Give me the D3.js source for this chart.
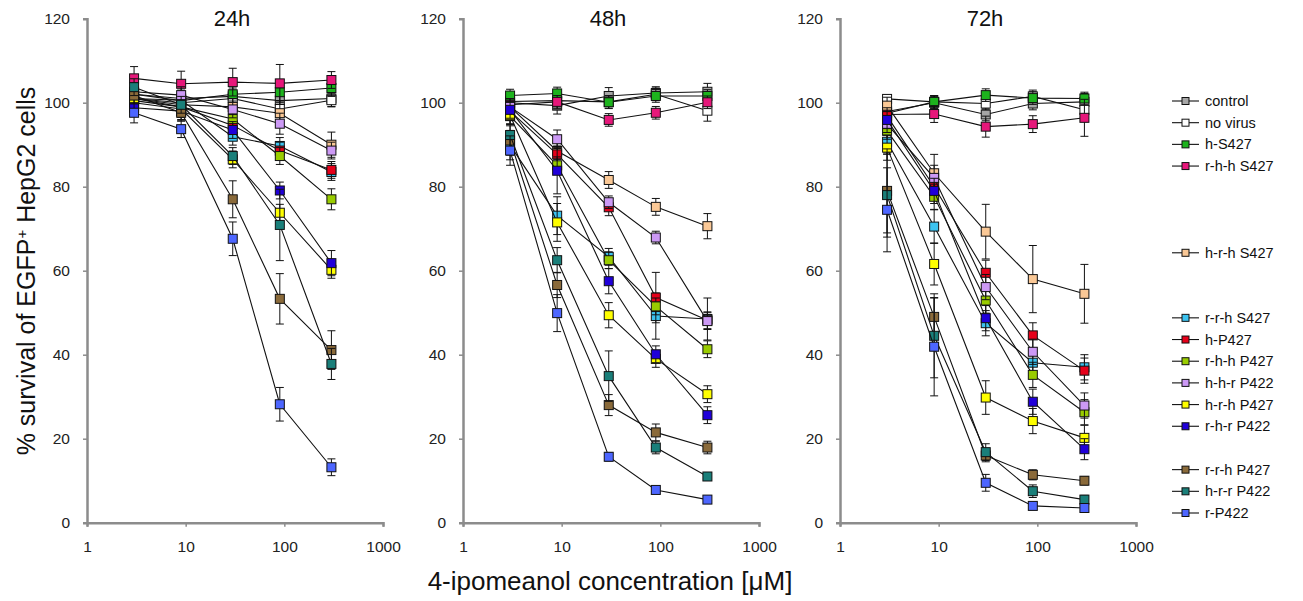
<!DOCTYPE html>
<html>
<head>
<meta charset="utf-8">
<script src="https://cdn.jsdelivr.net/npm/d3@7"></script>
<style>
  body { margin: 0; background: #fff; }
  text { font-family: "Liberation Sans", Arial, sans-serif; }
</style>
</head>
<body>
<div id="chart"></div>
<script>
//concentrations (x values, uM)
var conc = [3, 9, 30, 90, 300];

//series names, legend order
var seriesNames = ["control", "no virus", "h-S427", "r-h-h S427", "h-r-h S427",
  "r-r-h S427", "h-P427", "r-h-h P427", "h-h-r P422", "h-r-h P427",
  "r-h-r P422", "r-r-h P427", "h-r-r P422", "r-P422"];

var seriesColors = ["#a6a6a6", "#ffffff", "#1db31d", "#e6177a", "#fac896",
  "#3cc3f0", "#e6001a", "#99cc00", "#cc99f5", "#ffff00",
  "#2000d9", "#8a6a3a", "#1a7f7a", "#4d66ff"];

//legend slot for each series (gaps between groups)
var legendSlots = [0, 1, 2, 3, 7, 10, 11, 12, 13, 14, 15, 17, 18, 19];

var panelTitles = ["24h", "48h", "72h"];
var yTicks = [0, 20, 40, 60, 80, 100, 120];
var xTicks = [1, 10, 100, 1000];

//% survival, one row per series
var surv24 = [
  [102, 101, 101.5, 100.5, 101],
  [101, 100, 101, 98.5, 100.6],
  [102, 100.5, 102, 102.5, 103.5],
  [105.8, 104.5, 104.9, 104.6, 105.4],
  [101, 99.5, 99, 97.5, 90],
  [101, 100.6, 91.9, 89.7, 83.5],
  [101, 99, 94.6, 88.6, 84],
  [100.5, 99, 96.1, 87.3, 77],
  [102.6, 101.8, 98.4, 95, 88.6],
  [100, 98.5, 86.5, 73.8, 60.2],
  [98.8, 98, 93.5, 79.1, 61.8],
  [101.7, 97.6, 77, 53.3, 41.1],
  [103.7, 99.5, 87.3, 70.9, 37.8],
  [97.6, 93.7, 67.6, 28.2, 13.2]
];
var err24 = [
  [2, 2, 2, 3, 2],
  [2, 2, 2, 2, 1.5],
  [2, 2, 2, 2, 2],
  [2.8, 3, 3.3, 4.5, 2],
  [2, 2, 2, 3, 3],
  [2, 2, 2, 2, 2],
  [2, 2, 2, 2, 2],
  [2, 2, 2, 2, 2.5],
  [2, 2, 2, 2.5, 2],
  [2, 2, 2, 2, 2],
  [2, 2, 2, 2, 3],
  [2, 2, 4.4, 6, 4.6],
  [2, 2, 2, 8.5, 3.7],
  [2.4, 2, 4, 4, 2]
];

var surv48 = [
  [100, 99.3, 101.6, 102.3, 102.6],
  [100.3, 100.5, 100.2, 102, 98.1],
  [101.7, 102.2, 100.1, 101.6, 101.6],
  [99.5, 100.2, 95.9, 97.6, 100.1],
  [99, 88.5, 81.6, 75.2, 70.6],
  [89.9, 73.1, 63.3, 49.2, 48.5],
  [98, 87.7, 75.1, 53.6, 48.2],
  [96.8, 85.1, 62.5, 51.5, 41.3],
  [99, 91.3, 76.3, 67.9, 48],
  [97, 71.5, 49.4, 39, 30.6],
  [98.3, 83.8, 57.5, 40.1, 25.6],
  [91, 56.6, 28, 21.5, 17.9],
  [92.3, 62.5, 34.9, 17.9, 11],
  [88.6, 49.9, 15.7, 7.8, 5.5]
];
var err48 = [
  [1.5, 2, 2, 1.5, 2],
  [1.5, 2, 1.5, 1.5, 2.5],
  [1.5, 1.5, 1.5, 1.5, 1.5],
  [1.5, 1.5, 1.5, 1.5, 1.5],
  [2, 2, 2, 2, 3],
  [3.5, 4.5, 2, 5.5, 5],
  [2, 2, 2, 6, 2],
  [2, 2, 2, 2, 2],
  [2, 2.2, 1.5, 1.5, 2],
  [2, 4.5, 3, 2, 2],
  [2, 5.5, 3, 2, 2],
  [3.5, 3, 2.5, 2, 1.5],
  [3.5, 3, 6, 1.5, 0.8],
  [3.5, 4.4, 1, 0.8, 0.8]
];

var surv72 = [
  [97.9, 100, 97.2, 99.8, 100.2],
  [100.9, 100.2, 99.8, 101.5, 98.3],
  [97.5, 100.2, 101.8, 101.1, 101],
  [97.2, 97.3, 94.3, 94.9, 96.4],
  [99.3, 83.2, 69.3, 58, 54.5],
  [90.7, 70.5, 47.5, 38.1, 37],
  [96.8, 80, 59.5, 44.6, 36.2],
  [93.3, 77.6, 52.9, 35.2, 26.3],
  [94.9, 82.1, 56.1, 40.7, 27.9],
  [89.3, 61.6, 29.8, 24.2, 20.2],
  [95.9, 79, 48.7, 28.8, 17.5],
  [79, 49, 16, 11.4, 10],
  [78, 44.5, 16.8, 7.5, 5.5],
  [74.5, 41.9, 9.5, 4, 3.5]
];
var err72 = [
  [1.5, 1.5, 1.5, 1.5, 2],
  [1, 1.5, 1.5, 1.5, 2],
  [1.5, 1.5, 1.5, 1.5, 1.5],
  [1.5, 2, 2.5, 2, 4.4],
  [2, 4.5, 6.5, 8, 7],
  [3, 4, 3, 3, 3],
  [2, 3, 3, 3, 3],
  [2, 3, 3, 3, 3],
  [2, 3, 3, 3, 3],
  [3, 5, 4, 3, 3],
  [2, 3, 3, 3, 2.5],
  [10, 4.5, 1.5, 1.2, 1],
  [10, 10, 2, 1.5, 1],
  [10, 11.7, 2, 0.8, 0.8]
];

var panelValues = [surv24, surv48, surv72];
var panelErrors = [err24, err48, err72];

//layout
var W = 1303, H = 601;
var panelLeft = [87, 463, 840];
var panelWidth = 296;
var yTop = 18.7, yBottom = 522.7;
var axisColor = "#8c8c8c";

var svg = d3.select("#chart").append("svg")
  .attr("width", W)
  .attr("height", H);

var y = d3.scaleLinear().domain([0, 120]).range([yBottom, yTop]);

panelValues.forEach(function(values, p) {
  var x0 = panelLeft[p];
  var x = d3.scaleLog().domain([1, 1000]).range([x0, x0 + panelWidth]);
  var g = svg.append("g").attr("class", "panel");

  //y axis
  var yAxis = g.append("g")
    .attr("transform", "translate(" + x0 + ",0)")
    .call(d3.axisLeft(y).tickValues(yTicks).tickSize(4).tickPadding(13));
  //x axis
  var xAxis = g.append("g")
    .attr("transform", "translate(0," + yBottom + ")")
    .call(d3.axisBottom(x).tickValues(xTicks).tickFormat(d3.format("d")).tickSize(4).tickPadding(14));

  [yAxis, xAxis].forEach(function(a) {
    a.select(".domain").attr("stroke", axisColor).attr("stroke-width", 2.5);
    a.selectAll(".tick line").attr("stroke", axisColor).attr("stroke-width", 1.5);
    a.selectAll(".tick text")
      .attr("fill", "#222")
      .attr("font-size", 15.5)
      .attr("font-family", "Liberation Sans, Arial, sans-serif");
  });

  //panel title
  g.append("text")
    .attr("x", x(Math.sqrt(1000)) - 3)
    .attr("y", 26)
    .attr("text-anchor", "middle")
    .attr("font-size", 22)
    .attr("fill", "#111")
    .text(panelTitles[p]);

  var line = d3.line()
    .x(function(d, i) { return x(conc[i]); })
    .y(function(d) { return y(d); });

  values.forEach(function(row, s) {
    var sg = g.append("g").attr("class", "series");
    var errs = panelErrors[p][s];

    sg.append("path")
      .datum(row)
      .attr("d", line)
      .attr("fill", "none")
      .attr("stroke", "#111")
      .attr("stroke-width", 1.1);

    //error bars
    var eb = sg.selectAll(".err")
      .data(row)
      .enter()
      .append("g")
      .attr("class", "err");
    eb.append("line")
      .attr("x1", function(d, i) { return x(conc[i]); })
      .attr("x2", function(d, i) { return x(conc[i]); })
      .attr("y1", function(d, i) { return y(d + errs[i]); })
      .attr("y2", function(d, i) { return y(d - errs[i]); })
      .attr("stroke", "#111");
    [1, -1].forEach(function(sign) {
      eb.append("line")
        .attr("x1", function(d, i) { return x(conc[i]) - 4; })
        .attr("x2", function(d, i) { return x(conc[i]) + 4; })
        .attr("y1", function(d, i) { return y(d + sign * errs[i]); })
        .attr("y2", function(d, i) { return y(d + sign * errs[i]); })
        .attr("stroke", "#111");
    });

    //markers
    sg.selectAll("rect")
      .data(row)
      .enter()
      .append("rect")
      .attr("x", function(d, i) { return x(conc[i]) - 4.5; })
      .attr("y", function(d) { return y(d) - 4.5; })
      .attr("width", 9)
      .attr("height", 9)
      .attr("fill", seriesColors[s])
      .attr("stroke", "#111")
      .attr("stroke-width", 1);
  });
});

//legend
var legend = svg.append("g").attr("class", "legend");
var legendRow = d3.scaleLinear().domain([0, 19]).range([101, 513]);

seriesNames.forEach(function(name, s) {
  var ly = legendRow(legendSlots[s]);
  legend.append("line")
    .attr("x1", 1172).attr("x2", 1199)
    .attr("y1", ly).attr("y2", ly)
    .attr("stroke", "#111").attr("stroke-width", 1.1);
  legend.append("rect")
    .attr("x", 1182).attr("y", ly - 3.5)
    .attr("width", 7).attr("height", 7)
    .attr("fill", seriesColors[s])
    .attr("stroke", "#111").attr("stroke-width", 1);
  legend.append("text")
    .attr("x", 1205).attr("y", ly + 5)
    .attr("font-size", 14.5)
    .attr("font-family", "Lato, 'Open Sans', sans-serif")
    .attr("fill", "#111")
    .text(name);
});

//axis titles
svg.append("text")
  .attr("x", 610).attr("y", 590)
  .attr("text-anchor", "middle")
  .attr("font-size", 26)
  .attr("fill", "#111")
  .text("4-ipomeanol concentration [μM]");

var yt = svg.append("text")
  .attr("transform", "translate(35,271) rotate(-90)")
  .attr("text-anchor", "middle")
  .attr("font-size", 25)
  .attr("fill", "#111");
yt.append("tspan").text("% survival of EGFP");
yt.append("tspan").attr("baseline-shift", "super").attr("font-size", 15).text("+");
yt.append("tspan").text(" HepG2 cells");
</script>
</body>
</html>
